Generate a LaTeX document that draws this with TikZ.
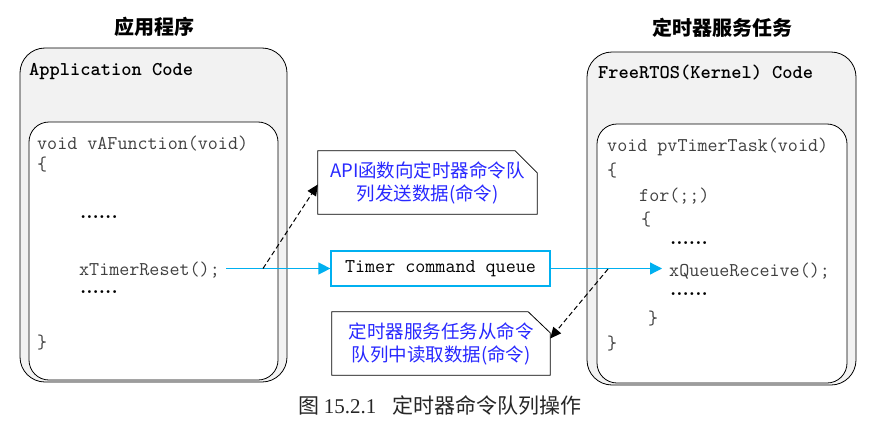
\documentclass[tikz,border=0pt]{standalone}
\usepackage{fontspec}
\newfontfamily\cjk{Noto Sans CJK SC}
\newfontfamily\serifnum{Liberation Serif}
\usetikzlibrary{arrows.meta}
\definecolor{panelgray}{HTML}{F2F2F2}
\definecolor{qblue}{HTML}{00B0F0}
\definecolor{noteblue}{RGB}{40,40,255}
\definecolor{codegray}{HTML}{404040}
\begin{document}
\begin{tikzpicture}[x=1pt,y=-1pt,
  outerbox/.style={draw=black,line width=0.8pt,fill=panelgray,rounded corners=25pt,inner sep=0pt},
  innerbox/.style={draw=black,line width=0.8pt,fill=white,rounded corners=20pt,inner sep=0pt},
  code/.style={anchor=base west,inner sep=0pt,text=codegray,font=\ttfamily\fontsize{19.5}{23}\selectfont},
  hdr/.style={anchor=base west,inner sep=0pt,text=black,font=\ttfamily\bfseries\fontsize{19.5}{23}\selectfont},
  dots/.style={anchor=base west,inner sep=0pt,text=black,font=\rmfamily\bfseries\fontsize{20}{23}\selectfont},
  titletext/.style={inner sep=0pt,font=\cjk\bfseries\fontsize{20}{24}\selectfont},
  notetext/.style={inner sep=0pt,text=noteblue,font=\cjk\fontsize{18.5}{23}\selectfont,align=center},
  noteframe/.style={inner sep=0pt,minimum width=219pt,minimum height=63pt},
  noteline/.style={draw=black,line width=0.8pt},
  queuebox/.style={draw=qblue,line width=1.2pt,inner sep=0pt,minimum width=219pt,minimum height=35pt,
    text=black,font=\ttfamily\fontsize{19.5}{23}\selectfont},
  blueline/.style={draw=qblue,line width=1.2pt},
  bluearrow/.style={blueline,-{Triangle[length=12pt,width=12pt]},qblue},
  dasharrow/.style={draw=black,line width=1pt,dash pattern=on 5pt off 3pt,-{Triangle[length=11pt,width=10pt]}}
]
\useasboundingbox (0,0) rectangle (885,420);

% titles
\node[titletext] (apptitle) at (154,27) {应用程序};
\node[titletext] (tmrtitle) at (722,27.5) {定时器服务任务};

% left panel
\node[outerbox,minimum width=267pt,minimum height=334pt] (appouter) at (153.5,215) {};
\node[innerbox,minimum width=249pt,minimum height=258pt] (appinner) at (153.5,251) {};
\node[hdr] (apphdr) at (29,75) {Application Code};
\node[code] (l1) at (37,149) {void vAFunction(void)};
\node[code] (l2) at (37,170) {\{};
\node[dots] (l3) at (80,218) {......};
\node[code] (l4) at (79,275) {xTimerReset();};
\node[dots] (l5) at (80,293) {......};
\node[code] (l6) at (37,348) {\}};

% right panel
\node[outerbox,minimum width=269pt,minimum height=333pt] (rtosouter) at (721.5,218.5) {};
\node[innerbox,minimum width=250pt,minimum height=259pt] (rtosinner) at (722,253.5) {};
\node[hdr] (rtoshdr) at (598,78) {FreeRTOS(Kernel) Code};
\node[code] (r1) at (607,151) {void pvTimerTask(void)};
\node[code] (r2) at (607,176) {\{};
\node[code] (r3) at (639,201) {for(;;)};
\node[code] (r4) at (641,225) {\{};
\node[dots] (r5) at (670,244) {......};
\node[code] (r6) at (669,276) {xQueueReceive();};
\node[dots] (r7) at (670,295) {......};
\node[code] (r8) at (648,324) {\}};
\node[code] (r9) at (607,349) {\}};

% queue
\node[queuebox] (queue) at (440.5,268.5) {Timer command queue};

% notes
\node[noteframe] (note1) at (427.5,182.5) {};
\draw[noteline] (note1.south west) -- (note1.north west) -- ([xshift=-22pt]note1.north east)
  -- ([yshift=-22pt]note1.north east) -- (note1.south east) -- cycle;
\node[notetext] (note1text) at (note1.center) {API函数向定时器命令队\\列发送数据(命令)};

\node[noteframe,minimum width=218pt] (note2) at (441,343.5) {};
\draw[noteline] (note2.south west) -- (note2.north west) -- ([xshift=-22pt]note2.north east)
  -- ([yshift=-21pt]note2.north east) -- (note2.south east) -- cycle;
\node[notetext] (note2text) at (note2.center) {定时器服务任务从命令\\队列中读取数据(命令)};

% connectors
\coordinate (sendpt) at (226,268.5);
\coordinate (recvpt) at (662,268.5);
\coordinate (d1start) at (263,268.5);
\coordinate (d2start) at (608,269);
\draw[bluearrow] (sendpt) -- (sendpt -| queue.west);
\draw[bluearrow] (queue.east) -- (recvpt);
\draw[dasharrow] (d1start) -- ([yshift=-2pt]note1.west);
\draw[dasharrow] (d2start) -- ([yshift=5pt]note2.east);

% caption
\node[inner sep=0pt,text=black!85] (caption) at (440,405)
  {\fontsize{21}{24}\selectfont{\cjk 图}\hspace{4pt}{\serifnum 15.2.1}\hspace{16pt}{\cjk 定时器命令队列操作}};
\end{tikzpicture}
\end{document}
